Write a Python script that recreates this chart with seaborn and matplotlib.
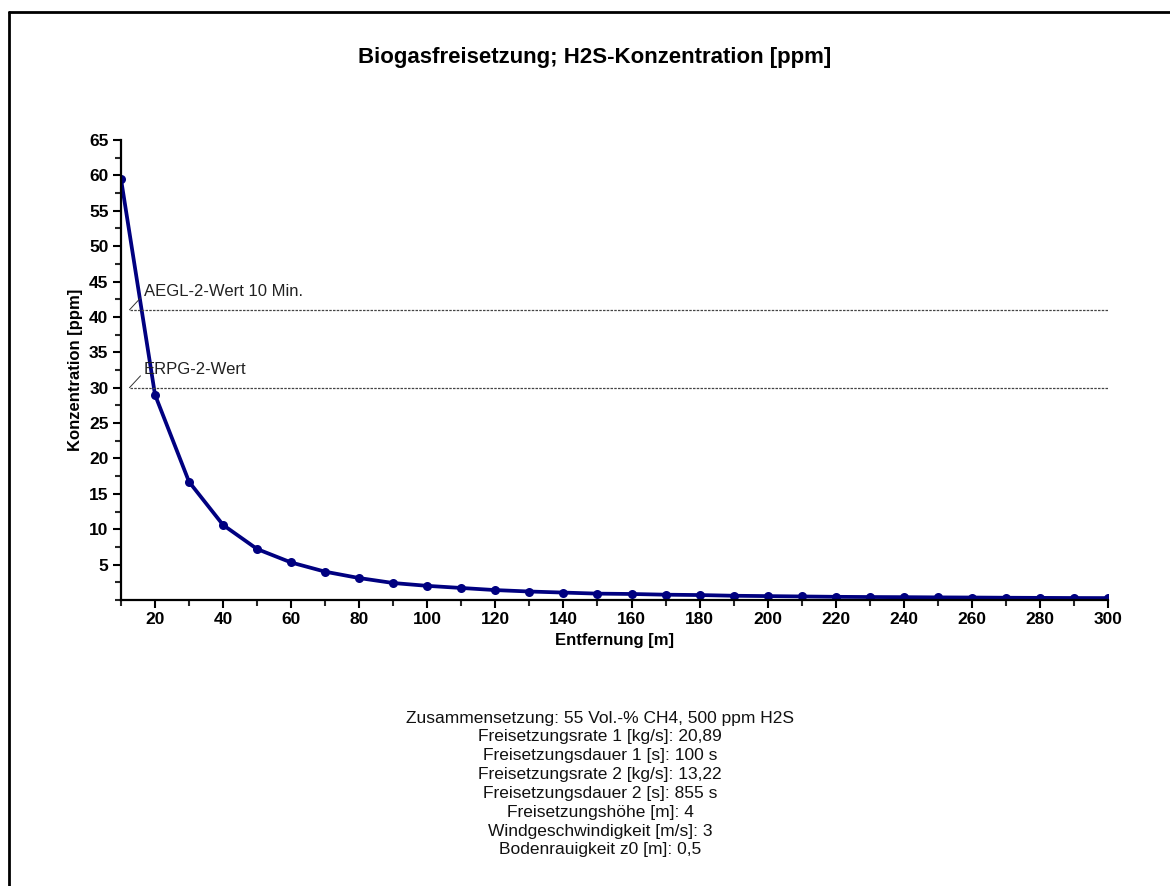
import matplotlib
matplotlib.use("Agg")
import matplotlib.pyplot as plt
from matplotlib.ticker import MultipleLocator
import seaborn as sns
import pandas as pd

distance_m = [10, 20, 30, 40, 50, 60, 70, 80, 90, 100, 110, 120, 130, 140, 150,
              160, 170, 180, 190, 200, 210, 220, 230, 240, 250, 260, 270, 280, 290, 300]
conc_ppm = [59.5, 29.0, 16.7, 10.6, 7.2, 5.3, 4.0, 3.1, 2.4, 2.0, 1.7, 1.4, 1.2, 1.05, 0.9,
            0.85, 0.75, 0.7, 0.6, 0.55, 0.5, 0.45, 0.42, 0.4, 0.37, 0.35, 0.32, 0.3, 0.28, 0.27]
thresholds = [41, 30]
threshold_labels = ["AEGL-2-Wert 10 Min.", "ERPG-2-Wert"]
title = "Biogasfreisetzung; H2S-Konzentration [ppm]"
xlabel = "Entfernung [m]"
ylabel = "Konzentration [ppm]"
footer_lines = [
    "Zusammensetzung: 55 Vol.-% CH4, 500 ppm H2S",
    "Freisetzungsrate 1 [kg/s]: 20,89",
    "Freisetzungsdauer 1 [s]: 100 s",
    "Freisetzungsrate 2 [kg/s]: 13,22",
    "Freisetzungsdauer 2 [s]: 855 s",
    "Freisetzungshöhe [m]: 4",
    "Windgeschwindigkeit [m/s]: 3",
    "Bodenrauigkeit z0 [m]: 0,5",
]

sns.set_theme(style="white")
plt.rcParams['font.family'] = ['Liberation Sans', 'DejaVu Sans']
plt.rcParams['text.color'] = 'black'
plt.rcParams['axes.labelcolor'] = 'black'

fig = plt.figure(figsize=(11.7, 8.86), dpi=100)
ax = fig.add_axes([0.1034, 0.3228, 0.8436, 0.5192])

df = pd.DataFrame({"x": distance_m, "y": conc_ppm})
sns.lineplot(data=df, x="x", y="y", ax=ax, color="#000080", linewidth=2.7,
             marker="o", markersize=6.5, markeredgewidth=0)

for val, lab in zip(thresholds, threshold_labels):
    ax.axhline(val, xmin=0.009, xmax=1.0, color="#444444", linestyle=(0, (2, 1)), linewidth=0.9)
    ax.annotate(lab, xy=(12.5, val), xytext=(16.7, val + 2.6), fontsize=12,
                color="#222222", ha="left", va="center",
                arrowprops=dict(arrowstyle="-", color="#333333", lw=0.7,
                                shrinkA=0, shrinkB=0, relpos=(0, 0.3)))

ax.set_xlim(10, 300)
ax.set_ylim(0, 65)
ax.xaxis.set_minor_locator(MultipleLocator(10))
ax.yaxis.set_minor_locator(MultipleLocator(2.5))
ax.set_xticks([t for t in range(20, 301, 20)])
ax.set_yticks([t for t in range(5, 66, 5)])

for s in ["top", "right"]:
    ax.spines[s].set_visible(False)
for s in ["left", "bottom"]:
    ax.spines[s].set_color("black")
    ax.spines[s].set_linewidth(1.6)

ax.tick_params(axis="both", which="major", direction="out", length=6, width=1.5,
               labelsize=12.5, colors="black", bottom=True, left=True, pad=3)
ax.tick_params(axis="both", which="minor", direction="out", length=4, width=1.5,
               bottom=True, left=True)
for lbl in ax.get_xticklabels() + ax.get_yticklabels():
    lbl.set_fontweight("bold")

ax.set_xlabel(xlabel, fontsize=12, fontweight="bold", labelpad=4)
ax.set_ylabel(ylabel, fontsize=12, fontweight="bold", labelpad=4)
ax.grid(False)

fig.text(0.508, 0.935, title, ha="center", va="center", fontsize=16, fontweight="bold")
fig.text(0.513, 0.198, "\n".join(footer_lines), ha="center", va="top",
         fontsize=12.5, linespacing=1.32, color="#111111")

# outer frame
fig.add_artist(plt.Line2D([0.0075, 0.0075], [0.0, 0.986], transform=fig.transFigure,
                          color="black", linewidth=2))
fig.add_artist(plt.Line2D([0.0075, 1.0], [0.986, 0.986], transform=fig.transFigure,
                          color="black", linewidth=2))

fig.savefig("out.png", dpi=100, facecolor="white")
